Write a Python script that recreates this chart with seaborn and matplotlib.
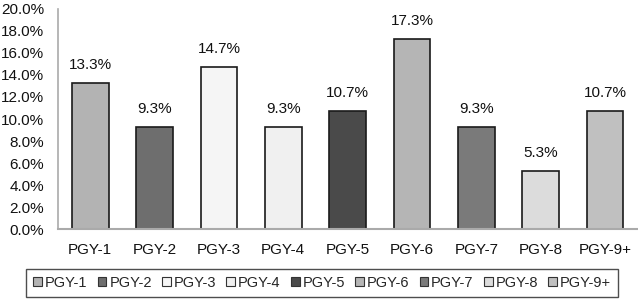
import matplotlib
matplotlib.use("Agg")
import matplotlib.pyplot as plt
import seaborn as sns
import pandas as pd
from matplotlib.patches import Patch
from matplotlib.ticker import FuncFormatter

categories = ["PGY-1", "PGY-2", "PGY-3", "PGY-4", "PGY-5", "PGY-6", "PGY-7", "PGY-8", "PGY-9+"]
values = [13.3, 9.3, 14.7, 9.3, 10.7, 17.3, 9.3, 5.3, 10.7]
colors = ["#b3b3b3", "#6e6e6e", "#f5f5f5", "#f0f0f0", "#4a4a4a", "#b5b5b5", "#7a7a7a", "#dcdcdc", "#c0c0c0"]
yticks = [0, 2, 4, 6, 8, 10, 12, 14, 16, 18, 20]

sns.set_style("white")
plt.rcParams["font.family"] = ["Liberation Sans", "DejaVu Sans"]

df = pd.DataFrame({"cat": categories, "val": values})
fig = plt.figure(figsize=(6.38, 2.99), dpi=100)
ax = fig.add_axes([0.0909, 0.234, 0.908, 0.736])
sns.barplot(data=df, x="cat", y="val", hue="cat", palette=colors, dodge=False,
            edgecolor="#1a1a1a", linewidth=1.2, width=0.57, legend=False, ax=ax)

for i, v in enumerate(values):
    ax.text(i, v + 1.0, f"{v:.1f}%", ha="center", va="bottom", fontsize=11, color="#111111")

ax.set_ylim(0, 20)
ax.set_xlim(-0.5, len(categories) - 0.5)
ax.set_yticks(yticks)
ax.yaxis.set_major_formatter(FuncFormatter(lambda y, p: f"{y:.1f}%"))
ax.set_xlabel("")
ax.set_ylabel("")
ax.tick_params(axis="y", length=0, pad=10, labelsize=11, labelcolor="#111111")
ax.tick_params(axis="x", length=0, pad=10, labelsize=11, labelcolor="#111111")
for s in ["top", "right"]:
    ax.spines[s].set_visible(False)
ax.spines["left"].set_color("#aaaaaa")
ax.spines["bottom"].set_color("#aaaaaa")
ax.spines["left"].set_linewidth(1.2)
ax.spines["bottom"].set_linewidth(1.5)

handles = [Patch(facecolor=c, edgecolor="#333333", linewidth=0.8) for c in colors]
leg = fig.legend(handles, categories, loc="center", bbox_to_anchor=(0.505, 0.054), ncol=9,
                 frameon=True, fancybox=False, edgecolor="#222222", fontsize=10.5,
                 handlelength=0.6, handleheight=0.6, handletextpad=0.2, columnspacing=0.7,
                 borderpad=0.5, borderaxespad=0)
leg.get_frame().set_linewidth(1.0)

fig.savefig("out.png", dpi=100, facecolor="white")
